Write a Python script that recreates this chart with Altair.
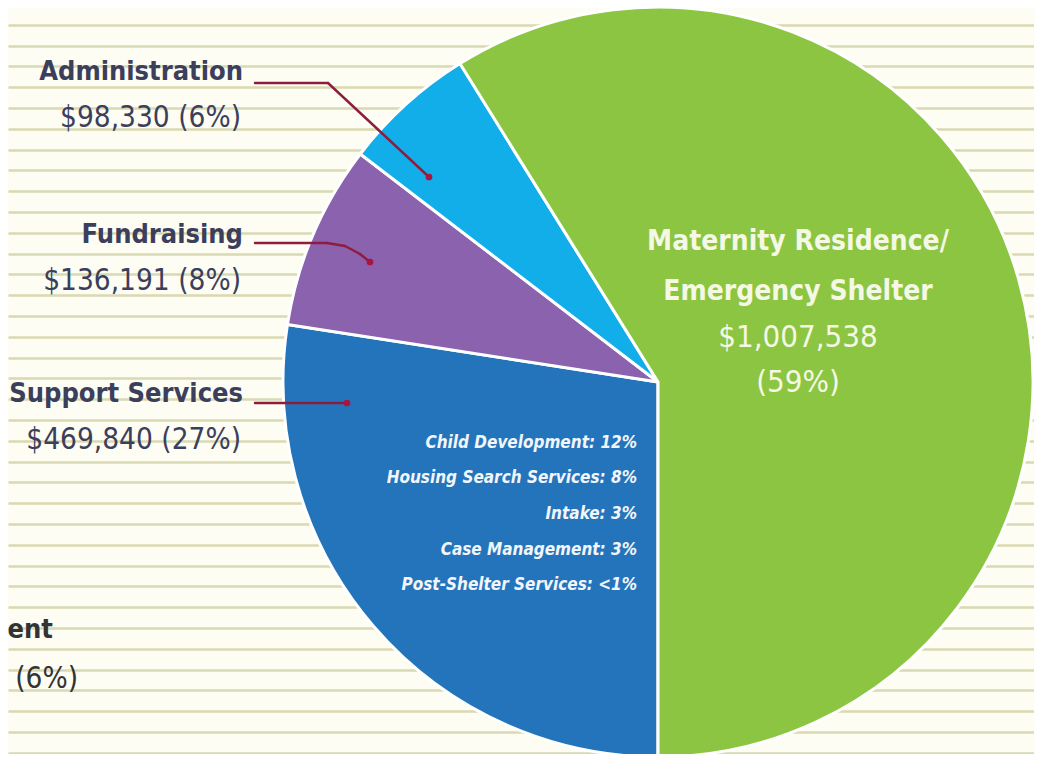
import math
import altair as alt
import pandas as pd

# ---------------- data ----------------
categories = ["Support Services", "Fundraising", "Administration",
              "Maternity Residence/Emergency Shelter"]
amounts = [469840, 136191, 98330, 1007538]
percents = [27, 8, 6, 59]
colors = ["#2474bb", "#8b62ad", "#12aee9", "#8cc541"]

sub_items = ["Child Development", "Housing Search Services", "Intake",
             "Case Management", "Post-Shelter Services"]
sub_percents = ["12%", "8%", "3%", "3%", "<1%"]

# partially visible labels of the neighbouring chart (cut by the frame)
cut_texts = ["ment", "4 (6%)"]

# ---------------- layout (chart pixels) ----------------
W, H = 1026, 746
CX, CY, R = 650, 374, 375
FONT = "DejaVu Sans Condensed, Liberation Sans Narrow, sans-serif"
NAVY = "#3c3f5c"
LEADER = "#8e1c40"

pie_df = pd.DataFrame({"name": categories, "amount": amounts,
                       "order": list(range(len(categories)))})

# ---------------- background stripes via axis grid ----------------
stripes = alt.Chart(pd.DataFrame({"s": [1]})).mark_point(opacity=0).encode(
    y=alt.Y("s:Q",
            scale=alt.Scale(domain=[0.1923, 36.06], reverse=True, nice=False, zero=False),
            axis=alt.Axis(values=list(range(1, 37)), grid=True, labels=False, ticks=False,
                          domain=False, title=None, gridColor="#d9d9b3", gridWidth=2.6))
)

pie = alt.Chart(pie_df).mark_arc(outerRadius=R, stroke="white", strokeWidth=3).encode(
    theta=alt.Theta("amount:Q", stack=True,
                    scale=alt.Scale(range=[math.pi, 3 * math.pi])),
    color=alt.Color("name:N", scale=alt.Scale(domain=categories, range=colors), legend=None),
    order=alt.Order("order:Q"),
    x=alt.value(CX), y=alt.value(CY),
)

# ---------------- left labels ----------------
left_names = [categories[2], categories[1], categories[0]]
left_vals = [f"${amounts[i]:,} ({percents[i]}%)" for i in (2, 1, 0)]
left_y = [72, 235, 394]
LINE = 47

name_df = pd.DataFrame({"t": left_names, "x": [235] * 3, "y": left_y})
val_df = pd.DataFrame({"t": left_vals, "x": [233] * 3, "y": [v + LINE for v in left_y]})


def txt(df, **kw):
    return alt.Chart(df).mark_text(font=FONT, baseline="alphabetic", **kw).encode(
        x=alt.X("x:Q", scale=None, axis=None),
        y=alt.Y("y:Q", scale=None, axis=None),
        text="t:N",
    )


left_name_layer = txt(name_df, align="right", fontSize=27, fontWeight="bold", color=NAVY)
left_val_layer = txt(val_df, align="right", fontSize=29.5, color=NAVY)

# ---------------- leader lines ----------------
seg_df = pd.DataFrame({
    "x": [247, 320, 247, 319, 337, 352, 247],
    "y": [75, 75, 235, 235, 238, 246, 395],
    "x2": [320, 421, 319, 337, 352, 362, 339],
    "y2": [75, 169, 235, 238, 246, 254, 395],
})
leaders = alt.Chart(seg_df).mark_rule(color=LEADER, strokeWidth=2.4, strokeCap="round").encode(
    x=alt.X("x:Q", scale=None, axis=None), x2="x2:Q",
    y=alt.Y("y:Q", scale=None, axis=None), y2="y2:Q",
)
dot_df = pd.DataFrame({"x": [421, 362, 339], "y": [169, 254, 395]})
dots = alt.Chart(dot_df).mark_circle(color="#a8153f", opacity=1, size=45).encode(
    x=alt.X("x:Q", scale=None, axis=None),
    y=alt.Y("y:Q", scale=None, axis=None),
)

# ---------------- green slice text ----------------
green_bold = pd.DataFrame({"t": ["Maternity Residence/", "Emergency Shelter"],
                           "x": [790, 790], "y": [242, 292]})
green_norm = pd.DataFrame({"t": [f"${amounts[3]:,}", f"({percents[3]}%)"],
                           "x": [790, 790], "y": [339, 384]})
green_b_layer = txt(green_bold, align="center", fontSize=28, fontWeight="bold", color="#f4f8e4")
green_n_layer = txt(green_norm, align="center", fontSize=31, color="#f4f8e4")

# ---------------- blue slice breakdown ----------------
blue_df = pd.DataFrame({
    "t": [f"{n}: {p}" for n, p in zip(sub_items, sub_percents)],
    "x": [629] * 5,
    "y": [440, 475, 511, 547, 582],
})
blue_layer = txt(blue_df, align="right", fontSize=17, fontWeight="bold",
                 fontStyle="italic", color="#f2f6fb")

# ---------------- cut-off text at lower left ----------------
cut_df = pd.DataFrame({"t": cut_texts, "x": [45, 70], "y": [630, 680]})
cut_name = txt(cut_df.iloc[[0]], align="right", fontSize=27, fontWeight="bold", color="#333333")
cut_val = txt(cut_df.iloc[[1]], align="right", fontSize=29.5, color="#333333")

chart = alt.layer(
    stripes, pie, leaders, dots, left_name_layer, left_val_layer,
    green_b_layer, green_n_layer, blue_layer, cut_name, cut_val,
).resolve_scale(x="independent", y="independent").properties(
    width=W, height=H, padding=0, autosize="none", background="#fdfdf3",
).configure_view(strokeWidth=0)

chart.save("out.html", embed_options={"renderer": "svg", "actions": False})
